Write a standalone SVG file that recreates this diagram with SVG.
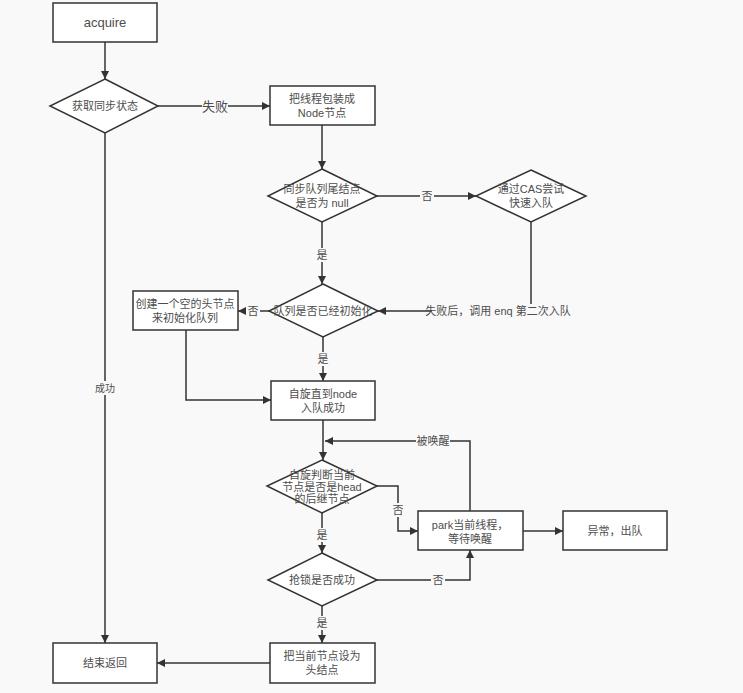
<svg xmlns="http://www.w3.org/2000/svg" width="743" height="693" viewBox="0 0 743 693">
<style>
.n{fill:#ffffff;stroke:#333333;stroke-width:1.5}
.t{font-family:"Liberation Sans","Noto Sans CJK SC",sans-serif;font-size:11px;fill:#4d4d4d;text-anchor:middle;dominant-baseline:central}
.l{fill:none;stroke:#333333;stroke-width:1.5}
.lb{font-family:"Liberation Sans","Noto Sans CJK SC",sans-serif;font-size:11px;fill:#4d4d4d;text-anchor:middle;dominant-baseline:central}
.bg{fill:#f9f9f9}
</style>
<defs>
<marker id="a" viewBox="0 0 10 10" refX="10" refY="5" markerWidth="8" markerHeight="8" markerUnits="userSpaceOnUse" orient="auto">
<path d="M0,0 L10,5 L0,10 z" fill="#333333"/>
</marker>
</defs>
<rect class="bg" x="0" y="0" width="743" height="693"/>
<g id="connectors">
<path class="l" d="M105,42 L105,79" marker-end="url(#a)"/>
<path class="l" d="M158,106 L270,106" marker-end="url(#a)"/>
<rect x="202" y="98" width="26" height="16" class="bg"/>
<text class="lb" x="215" y="106" style="font-size:13px">失败</text>
<path class="l" d="M322,125 L322,169" marker-end="url(#a)"/>
<path class="l" d="M377,196 L476,196" marker-end="url(#a)"/>
<rect x="420" y="189" width="14" height="14" class="bg"/>
<text class="lb" x="427" y="196">否</text>
<path class="l" d="M322,222 L322,284" marker-end="url(#a)"/>
<rect x="315" y="248" width="14" height="14" class="bg"/>
<text class="lb" x="322" y="255">是</text>
<path class="l" d="M531,222 L531,311 L378,311" marker-end="url(#a)"/>
<rect x="432" y="304" width="132" height="14" class="bg"/>
<text class="lb" x="498" y="311">失败后，调用 enq 第二次入队</text>
<path class="l" d="M269,311 L238,311" marker-end="url(#a)"/>
<rect x="246" y="304" width="14" height="14" class="bg"/>
<text class="lb" x="253" y="311">否</text>
<path class="l" d="M323,337 L323,381" marker-end="url(#a)"/>
<rect x="316" y="352" width="14" height="14" class="bg"/>
<text class="lb" x="323" y="359">是</text>
<path class="l" d="M186,330 L186,400 L271,400" marker-end="url(#a)"/>
<path class="l" d="M323,420 L323,460" marker-end="url(#a)"/>
<path class="l" d="M470,511 L470,441 L325,441" marker-end="url(#a)"/>
<rect x="416" y="434" width="34" height="14" class="bg"/>
<text class="lb" x="433" y="441">被唤醒</text>
<path class="l" d="M377,486 L398,486 L398,531 L418,531" marker-end="url(#a)"/>
<rect x="391" y="503" width="14" height="14" class="bg"/>
<text class="lb" x="398" y="510">否</text>
<path class="l" d="M523,531 L563,531" marker-end="url(#a)"/>
<path class="l" d="M322,513 L322,553" marker-end="url(#a)"/>
<rect x="315" y="528" width="14" height="14" class="bg"/>
<text class="lb" x="322" y="535">是</text>
<path class="l" d="M377,580 L470,580 L470,550" marker-end="url(#a)"/>
<rect x="431" y="573" width="14" height="14" class="bg"/>
<text class="lb" x="438" y="580">否</text>
<path class="l" d="M322,606 L322,643" marker-end="url(#a)"/>
<rect x="315" y="616" width="14" height="14" class="bg"/>
<text class="lb" x="322" y="623">是</text>
<path class="l" d="M270,663 L157,663" marker-end="url(#a)"/>
<path class="l" d="M105,133 L105,643" marker-end="url(#a)"/>
<rect x="94" y="381" width="22" height="14" class="bg"/>
<text class="lb" x="105" y="388" style="font-size:10px">成功</text>
</g>
<g id="acquire">
<rect class="n" x="53" y="3" width="104" height="39"/>
<text class="t" x="105" y="22" style="font-size:13px">acquire</text>
</g>
<g id="getState">
<polygon class="n" points="105,79 158,106 105,133 50,106"/>
<text class="t" x="105" y="106">获取同步状态</text>
</g>
<g id="wrapNode">
<rect class="n" x="270" y="86" width="105" height="39"/>
<text class="t" x="322" y="99">把线程包装成</text>
<text class="t" x="322" y="113">Node节点</text>
</g>
<g id="tailNull">
<polygon class="n" points="322,169 377,196 322,222 268,196"/>
<text class="t" x="322" y="189">同步队列尾结点</text>
<text class="t" x="322" y="203">是否为 null</text>
</g>
<g id="casEnq">
<polygon class="n" points="531,170 586,196 531,222 476,196"/>
<text class="t" x="531" y="189">通过CAS尝试</text>
<text class="t" x="531" y="203">快速入队</text>
</g>
<g id="queueInit">
<polygon class="n" points="323,284 378,311 323,337 269,311"/>
<text class="t" x="323" y="311">队列是否已经初始化</text>
</g>
<g id="createHead">
<rect class="n" x="133" y="291" width="105" height="39"/>
<text class="t" x="185" y="304">创建一个空的头节点</text>
<text class="t" x="185" y="318">来初始化队列</text>
</g>
<g id="spinEnq">
<rect class="n" x="271" y="381" width="104" height="39"/>
<text class="t" x="323" y="394">自旋直到node</text>
<text class="t" x="323" y="408">入队成功</text>
</g>
<g id="isHeadNext">
<polygon class="n" points="322,460 377,486 322,513 267,486"/>
<text class="t" x="322" y="475">自旋判断当前</text>
<text class="t" x="322" y="487">节点是否是head</text>
<text class="t" x="322" y="499">的后继节点</text>
</g>
<g id="park">
<rect class="n" x="418" y="511" width="105" height="39"/>
<text class="t" x="470" y="525">park当前线程，</text>
<text class="t" x="470" y="539">等待唤醒</text>
</g>
<g id="exception">
<rect class="n" x="563" y="511" width="104" height="39"/>
<text class="t" x="615" y="531">异常，出队</text>
</g>
<g id="tryLock">
<polygon class="n" points="322,553 377,580 322,606 268,580"/>
<text class="t" x="322" y="580">抢锁是否成功</text>
</g>
<g id="setHead">
<rect class="n" x="270" y="643" width="105" height="40"/>
<text class="t" x="322" y="656">把当前节点设为</text>
<text class="t" x="322" y="670">头结点</text>
</g>
<g id="endReturn">
<rect class="n" x="53" y="643" width="104" height="40"/>
<text class="t" x="105" y="663">结束返回</text>
</g>
</svg>
